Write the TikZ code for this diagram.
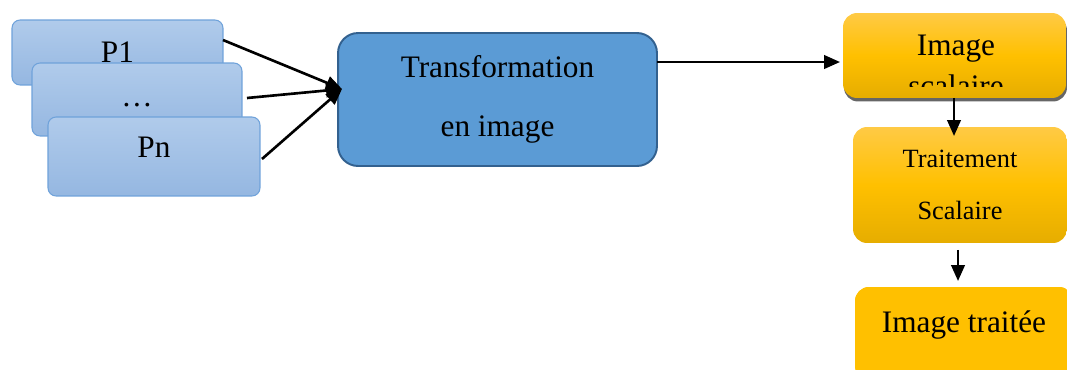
\documentclass[tikz,border=0pt]{standalone}
\usepackage{fontspec}
\setmainfont{Liberation Serif}
\usetikzlibrary{arrows.meta,shadows}

\definecolor{pboxtop}{HTML}{B0CBEB}
\definecolor{pboxbot}{HTML}{95B7E1}
\definecolor{pline}{HTML}{6FA2DA}
\definecolor{transfill}{HTML}{5B9BD5}
\definecolor{transline}{HTML}{33618F}
\definecolor{jaunetop}{HTML}{FFCA45}
\definecolor{jaune}{HTML}{FFC000}
\definecolor{jaunebot}{HTML}{E6AD00}

\begin{document}
\begin{tikzpicture}[x=0.02cm, y=-0.02cm,
    pbox/.style={draw=pline, line width=0.6pt, rounded corners=0.16cm, top color=pboxtop, bottom color=pboxbot,
        inner sep=0pt, outer sep=0pt, font=\fontsize{17.8}{21}\selectfont},
    transbox/.style={draw=transline, line width=1.1pt, rounded corners=0.4cm, fill=transfill,
        inner sep=0pt, outer sep=0pt, align=center, font=\fontsize{17.8}{33.5}\selectfont},
    yellowbox/.style={rounded corners=0.28cm, top color=jaunetop, bottom color=jaunebot, middle color=jaune,
        inner sep=0pt, outer sep=0pt, align=center}]
    \tikzset{edge/.style = {-{Triangle[length=0.32cm,width=0.27cm]}, line width=1.5pt}}
    \tikzset{bigtext/.style = {inner sep=0pt, font=\fontsize{17.8}{21}\selectfont}}

    \useasboundingbox (0,0) rectangle (1067,369);
    \clip (0,0) rectangle (1067,369);

    % paquets P1 ... Pn
    \node[pbox, minimum width=4.22cm, minimum height=1.3cm] (p1) at (117.5,52.5) {P1};
    \node[pbox, minimum width=4.2cm, minimum height=1.46cm, text height=0.3cm] (pdots) at (137,99.5) {\ldots};
    \node[pbox, minimum width=4.24cm, minimum height=1.58cm, text depth=0.35cm] (pn) at (154,156.5) {Pn};

    \node[transbox, minimum width=6.38cm, minimum height=2.66cm] (trans) at (497.5,99.5) {Transformation\\en image};

    % image scalaire (texte coupe par la boite)
    \node[yellowbox, minimum width=4.46cm, minimum height=1.7cm,
        drop shadow={shadow xshift=0.02cm, shadow yshift=-0.07cm, fill=black!60, opacity=1}] (scal) at (954.5,55.5) {};
    \begin{scope}
        \clip (843,13) rectangle (1067,86);
        \node[bigtext, anchor=base] (scalA) at (956,55) {Image};
        \node[bigtext, anchor=base] (scalB) at (956,96) {scalaire};
    \end{scope}

    \node[yellowbox, minimum width=4.28cm, minimum height=2.32cm, font=\fontsize{15}{29.5}\selectfont] (trait) at (960,185) {Traitement\\Scalaire};
    \node[yellowbox, fill=jaune, top color=jaune, bottom color=jaune, minimum width=4.36cm, minimum height=1.86cm,
        text height=0.41cm, text depth=0.47cm, font=\fontsize{17.8}{21}\selectfont] (fin) at (964,333.5) {Image traitée};

    \coordinate (join) at (342,89);

    \draw [edge] ([yshift=0.25cm]p1.east) to (join);
    \draw [edge] ([xshift=0.1cm,yshift=0.03cm]pdots.east) to (join);
    \draw [edge] ([xshift=0.04cm,yshift=-0.05cm]pn.east) to (join);
    \draw [edge] ([yshift=0.75cm]trans.east) to ([xshift=-0.06cm,yshift=0.75cm]trans.east -| scal.west);
    \draw [edge] ([xshift=-0.01cm]scal.south) to ([xshift=-0.01cm,yshift=-0.18cm]scal.south |- trait.north);
    \draw [edge] ([xshift=-0.04cm,yshift=-0.14cm]trait.south) to ([xshift=-0.04cm,yshift=0.12cm]trait.south |- fin.north);

\end{tikzpicture}
\end{document}
